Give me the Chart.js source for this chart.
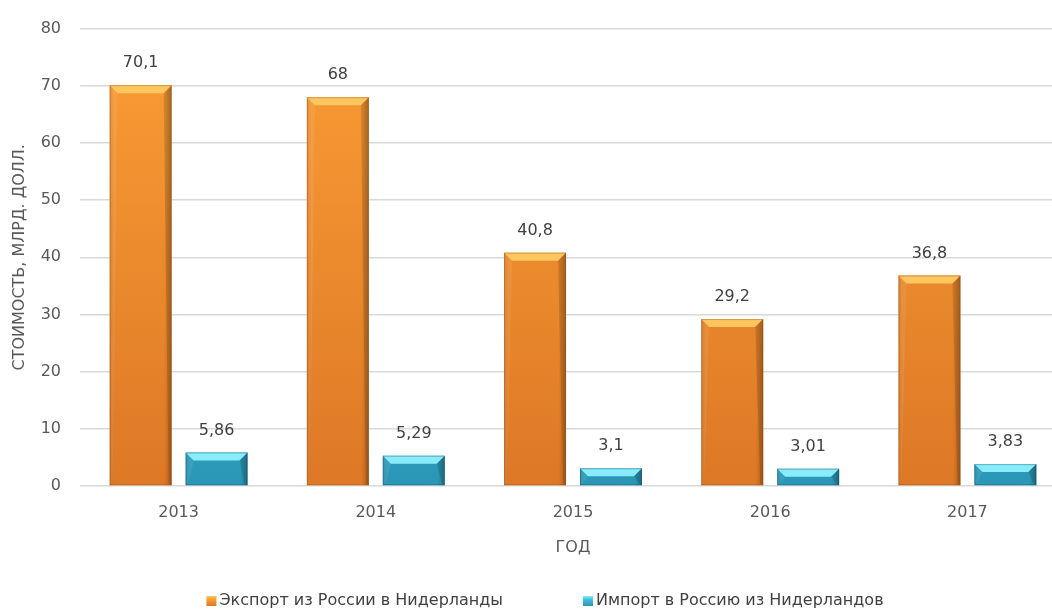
<!DOCTYPE html>
<html>
<head>
<meta charset="utf-8">
<script src="https://cdn.jsdelivr.net/npm/chart.js@4/dist/chart.umd.min.js"></script>
<style>
  html, body { margin: 0; padding: 0; background: #ffffff; overflow: hidden; }
  #wrap { width: 1090px; height: 613px; position: relative; }
</style>
</head>
<body>
<div id="wrap"><canvas id="c"></canvas></div>
<script>
const years = ['2013', '2014', '2015', '2016', '2017'];
const exportValues = [70.1, 68, 40.8, 29.2, 36.8];
const importValues = [5.86, 5.29, 3.1, 3.01, 3.83];
const exportLabels = ['70,1', '68', '40,8', '29,2', '36,8'];
const importLabels = ['5,86', '5,29', '3,1', '3,01', '3,83'];
const seriesNames = ['Экспорт из России в Нидерланды', 'Импорт в Россию из Нидерландов'];
const yMin = 0, yMax = 80, yStep = 10;

const FONT = "'DejaVu Sans', 'Liberation Sans', sans-serif";
const palettes = [
  { base: '#F29130', light: '#FA9D35', dark: '#DD7826', top: '#FEC65E', edge: 'rgba(150,70,10,0.35)' },
  { base: '#36AECF', light: '#42BEDF', dark: '#2B97B6', top: '#8AECFA', edge: 'rgba(10,70,100,0.35)' }
];
const valueLabels = [exportLabels, importLabels];

function vGrad(chart, p) {
  const a = chart.chartArea;
  if (!a) return p.base;
  const g = chart.ctx.createLinearGradient(0, a.top, 0, a.bottom);
  g.addColorStop(0, p.light);
  g.addColorStop(1, p.dark);
  return g;
}

const bevelPlugin = {
  id: 'bevel',
  afterDatasetsDraw(chart) {
    const ctx = chart.ctx;
    chart.data.datasets.forEach((ds, di) => {
      const meta = chart.getDatasetMeta(di);
      const p = palettes[di];
      meta.data.forEach((bar, i) => {
        const { x, y, base, width } = bar.getProps(['x', 'y', 'base', 'width'], true);
        const l = x - width / 2, r = x + width / 2, t = y, b = base;
        const h = b - t;
        const bv = Math.min(8, h / 2);
        ctx.save();
        const g = ctx.createLinearGradient(l, 0, r, 0);
        g.addColorStop(0, 'rgba(0,0,0,0.10)');
        g.addColorStop(0.07, 'rgba(0,0,0,0)');
        g.addColorStop(0.88, 'rgba(0,0,0,0)');
        g.addColorStop(1, 'rgba(0,0,0,0.22)');
        ctx.fillStyle = g;
        ctx.fillRect(l, t, width, h);
        ctx.beginPath();
        ctx.moveTo(l, t); ctx.lineTo(r, t); ctx.lineTo(r - bv, t + bv); ctx.lineTo(l + bv, t + bv); ctx.closePath();
        ctx.fillStyle = p.top;
        ctx.fill();
        ctx.beginPath();
        ctx.moveTo(r, t); ctx.lineTo(r, b); ctx.lineTo(r - 3, b - 2); ctx.lineTo(r - bv, t + bv); ctx.closePath();
        ctx.fillStyle = 'rgba(0,0,0,0.12)';
        ctx.fill();
        ctx.beginPath();
        ctx.moveTo(l, t); ctx.lineTo(l, b); ctx.lineTo(l + 3, b - 2); ctx.lineTo(l + bv, t + bv); ctx.closePath();
        ctx.fillStyle = 'rgba(255,255,255,0.08)';
        ctx.fill();
        ctx.strokeStyle = p.edge;
        ctx.lineWidth = 1;
        ctx.strokeRect(l + 0.5, t + 0.5, width - 1, h - 1);
        ctx.fillStyle = '#404040';
        ctx.font = "16px " + FONT;
        ctx.textAlign = 'center';
        ctx.textBaseline = 'middle';
        ctx.fillText(valueLabels[di][i], x, t - 22);
        ctx.restore();
      });
    });
  }
};

const legendPlugin = {
  id: 'customLegend',
  afterDraw(chart) {
    const ctx = chart.ctx;
    const font = "16px " + FONT;
    ctx.save();
    ctx.font = font;
    const box = 10, boxGap = 3, itemGap = 80;
    const widths = chart.data.datasets.map(ds => box + boxGap + ctx.measureText(ds.label).width);
    const total = widths.reduce((a, b) => a + b, 0) + itemGap * (widths.length - 1);
    let x = chart.width / 2 - total / 2;
    const y = 601;
    chart.data.datasets.forEach((ds, i) => {
      const p = palettes[i];
      const g = ctx.createLinearGradient(0, y - box / 2, 0, y + box / 2);
      g.addColorStop(0, p.top);
      g.addColorStop(0.35, p.light);
      g.addColorStop(1, p.dark);
      ctx.fillStyle = g;
      ctx.fillRect(x, y - box / 2, box, box);
      ctx.fillStyle = '#404040';
      ctx.textAlign = 'left';
      ctx.textBaseline = 'middle';
      ctx.fillText(ds.label, x + box + boxGap, y);
      x += widths[i] + itemGap;
    });
    ctx.restore();
  }
};

new Chart(document.getElementById('c'), {
  type: 'bar',
  data: {
    labels: years,
    datasets: [
      { label: seriesNames[0], data: exportValues,
        backgroundColor: (c) => vGrad(c.chart, palettes[0]) },
      { label: seriesNames[1], data: importValues,
        backgroundColor: (c) => vGrad(c.chart, palettes[1]) }
    ]
  },
  options: {
    responsive: true,
    maintainAspectRatio: false,
    animation: false,
    datasets: { bar: { categoryPercentage: 0.77, barPercentage: 0.816 } },
    layout: { padding: { left: 0, right: 24, top: 22, bottom: 56 } },
    plugins: {
      tooltip: { enabled: false },
      legend: { display: false }
    },
    scales: {
      x: {
        grid: { display: false, drawTicks: false },
        border: { display: false },
        ticks: { font: { family: FONT, size: 16 }, color: '#595959', padding: 17 },
        title: { display: true, text: 'ГОД', font: { family: FONT, size: 16 }, color: '#595959', padding: { top: 0, bottom: 0 } },
        afterFit(s) { s.height = 71; }
      },
      y: {
        min: yMin, max: yMax,
        grid: { color: '#D9D9D9', lineWidth: 1.5, drawTicks: false },
        border: { display: false },
        ticks: { stepSize: yStep, font: { family: FONT, size: 16 }, color: '#595959', padding: 19 },
        title: { display: true, text: 'СТОИМОСТЬ, МЛРД. ДОЛЛ.', font: { family: FONT, size: 16 }, color: '#595959', padding: { top: 10, bottom: 0 } },
        afterFit(s) { s.width = 80; }
      }
    }
  },
  plugins: [bevelPlugin, legendPlugin]
});
</script>
</body>
</html>
